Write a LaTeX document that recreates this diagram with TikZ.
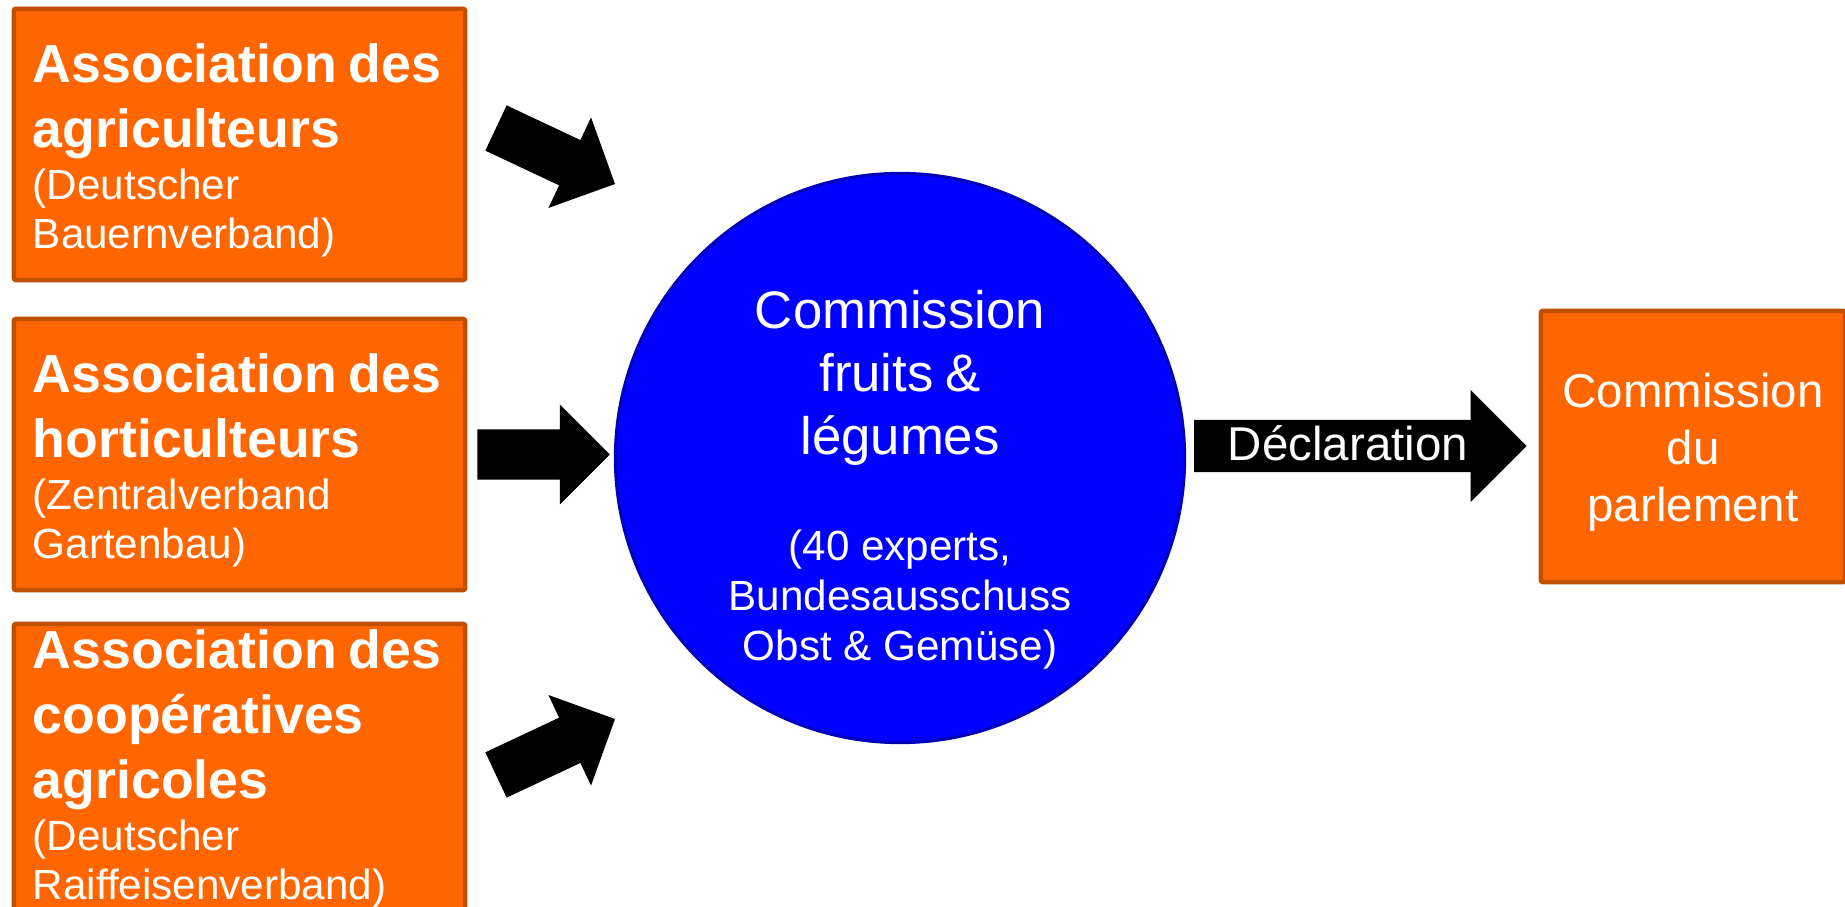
\documentclass[tikz,border=0pt]{standalone}
\usepackage{fontspec}
\setmainfont{Liberation Sans}
\usetikzlibrary{calc}
\usetikzlibrary{positioning}
\definecolor{color_box_fill}{HTML}{FF6600}
\definecolor{color_box_edge}{HTML}{C04F00}
\definecolor{color_comm_fill}{HTML}{0000FF}
\definecolor{color_comm_edge}{HTML}{0000B8}
\definecolor{color_arrow}{HTML}{000000}
\def\boxlinewidth{0.045cm}
\def\assochead{\fontsize{15.25}{18.4}\selectfont\bfseries}
\def\assocnote{\fontsize{12}{14}\selectfont}
\def\commbig{\fontsize{15}{17.9}\selectfont}
\def\commsmall{\fontsize{12}{14.2}\selectfont}
\def\parlfont{\fontsize{13.5}{16.2}\selectfont}
\def\toppad#1{\rule{0pt}{#1}}
\def\blockarrow[#1](#2,#3,#4)(#5)(#6){
    \coordinate (ba-base) at ($(#6)!#4!(#5)$);
    \fill[#1] ($(#5)!#2!90:(#6)$) -- ($(ba-base)!#2!-90:(#5)$) -- ($(ba-base)!#3!-90:(#5)$) -- (#6)
        -- ($(ba-base)!#3!90:(#5)$) -- ($(ba-base)!#2!90:(#5)$) -- ($(#5)!#2!-90:(#6)$) -- cycle;
}

\begin{document}
\begin{tikzpicture}[x=0.01cm,y=-0.01cm,
    assocbox/.style={draw=color_box_edge,fill=color_box_fill,line width=\boxlinewidth,rounded corners=0.02cm,
        text=white,text width=4.13cm,align=left,inner xsep=0.19cm,inner ysep=0pt,
        minimum width=4.51cm,minimum height=2.71cm,
        execute at begin node={\setlength{\parindent}{0pt}\setlength{\hfuzz}{20pt}}},
    parlbox/.style={draw=color_box_edge,fill=color_box_fill,line width=\boxlinewidth,rounded corners=0.02cm,
        text=white,text width=2.9cm,align=center,inner sep=0pt,
        minimum width=3.04cm,minimum height=2.71cm,font=\parlfont},
    commcircle/.style={circle,draw=color_comm_edge,fill=color_comm_fill,line width=0.03cm,
        minimum size=5.69cm,inner sep=0pt},
    commtext/.style={text=white,text width=4cm,align=center,inner sep=0pt,
        execute at begin node={\setlength{\parindent}{0pt}}},
    decltext/.style={text=white,inner sep=0pt,font=\parlfont}]
    \useasboundingbox (0,0) rectangle (1845,907);
    % the three associations
    \node[assocbox] (box1) at (239.5,144.5)
        {{\assochead\toppad{14.4pt}Association~des\\agriculteurs\par}\vskip 0.8pt{\assocnote (Deutscher\\Bauernverband)\par}};
    \node[assocbox] (box2) at (239.5,454.5)
        {{\assochead\toppad{14.4pt}Association~des\\horticulteurs\par}\vskip 0.8pt{\assocnote (Zentralverband\\Gartenbau)\par}};
    \node[assocbox,minimum height=2.9cm] (box3) at (239.5,769)
        {{\assochead Association~des\\coopératives\\agricoles\par}\vskip 0.8pt{\assocnote (Deutscher\\Raiffeisenverband)\par}};
    % the commission
    \node[commcircle] (comm) at (900,458) {};
    \node[commtext] (commlabel) at ($(comm.center)+(0,22)$)
        {{\commbig Commission\\fruits \&\\légumes\par}\vskip 16pt
         {\commsmall (40 experts,\\Bundesausschuss\\Obst \& Gemüse)\par}};
    \node[parlbox] (parl) at (1693,446.5) {\toppad{13.3pt}Commission\\du\\parlement};
    % arrow ends
    \coordinate (a1tail) at (496,128);
    \coordinate (a1tip) at (615,184);
    \coordinate (a2tail) at ($(box2.east)+(10,0)$);
    \coordinate (a2tip) at ($(a2tail -| comm.west)+(-4,0)$);
    \coordinate (a3tail) at (496,775);
    \coordinate (a3tip) at (615,719);
    \coordinate (dtail) at ($(comm.east)+(8,-12)$);
    \coordinate (dtip) at ($(dtail -| parl.west)+(-12,0)$);
    \blockarrow[color_arrow](0.25cm,0.5cm,0.5cm)(a1tail)(a1tip)
    \blockarrow[color_arrow](0.25cm,0.5cm,0.5cm)(a2tail)(a2tip)
    \blockarrow[color_arrow](0.25cm,0.5cm,0.5cm)(a3tail)(a3tip)
    \blockarrow[color_arrow](0.26cm,0.56cm,0.56cm)(dtail)(dtip)
    \node[decltext] (decl) at (1348,443) {Déclaration};
\end{tikzpicture}
\end{document}
